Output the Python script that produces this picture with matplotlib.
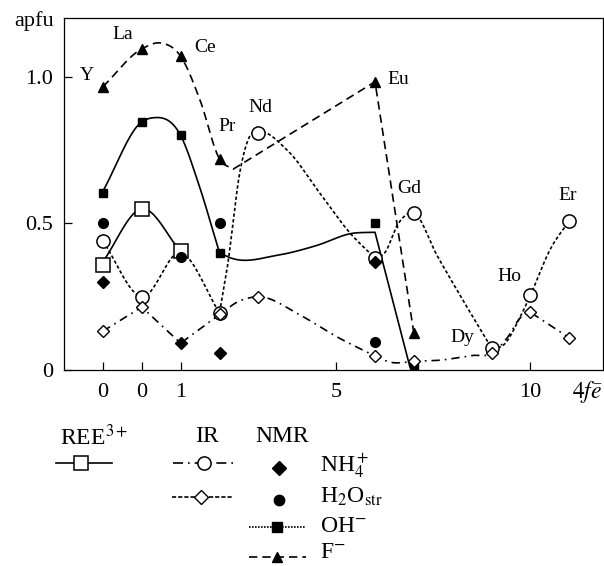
import numpy as np
import matplotlib
matplotlib.use("Agg")
import matplotlib.pyplot as plt

plt.rcParams['font.family'] = ['Liberation Serif', 'DejaVu Serif']
plt.rcParams['mathtext.fontset'] = 'stix'

# -----------------------------
# Data (x = position on 4f-electron axis; Y and La both have 0 f-electrons)
# -----------------------------
elements = ['Y', 'La', 'Ce', 'Pr', 'Nd', 'Eu', 'Gd', 'Dy', 'Ho', 'Er']
el_x = [-1, 0, 1, 2, 3, 6, 7, 9, 10, 11]

xtick_pos = [-1, 0, 1, 5, 10]
xtick_lab = ['0', '0', '1', '5', '10']
ytick_pos = [0, 0.5, 1.0]
ytick_lab = ['0', '0.5', '1.0']

# REE3+ (open squares)
ree_x = [-1, 0, 1]
ree_y = [0.36, 0.55, 0.405]

# IR, open circles
irc_x = [-1, 0, 2, 3, 6, 7, 9, 10, 11]
irc_y = [0.44, 0.25, 0.195, 0.81, 0.382, 0.535, 0.075, 0.256, 0.51]

# IR, open diamonds
ird_x = [-1, 0, 2, 3, 6, 7, 9, 10, 11]
ird_y = [0.133, 0.215, 0.19, 0.25, 0.048, 0.03, 0.057, 0.197, 0.11]

# NMR
nh4_x = [-1, 1, 2, 6]
nh4_y = [0.30, 0.092, 0.058, 0.368]
h2o_x = [-1, 1, 2, 6]
h2o_y = [0.50, 0.385, 0.50, 0.096]
oh_x = [-1, 0, 1, 2, 6, 7]
oh_y = [0.605, 0.846, 0.80, 0.40, 0.50, 0.01]
f_x = [-1, 0, 1, 2, 6, 7]
f_y = [0.966, 1.095, 1.07, 0.72, 0.983, 0.126]

# curve knots: list of pieces, (kind, x, y)
ree_curve = [('s', [-1, 0, 1], [0.37, 0.55, 0.405])]
irc_curve = [('s', [-1, 0, 1, 2], [0.44, 0.25, 0.40, 0.195]),
             ('s', [2, 2.2, 2.53, 2.75, 3, 3.74, 4.6, 5.36, 6],
                   [0.195, 0.35, 0.68, 0.79, 0.81, 0.75, 0.60, 0.467, 0.382]),
             ('s', [6, 6.25, 6.6, 7, 7.6, 8.3, 9],
                   [0.382, 0.40, 0.50, 0.535, 0.39, 0.23, 0.075]),
             ('s', [9, 9.3, 9.73, 10, 10.5, 11],
                   [0.075, 0.085, 0.18, 0.256, 0.41, 0.51])]
ird_curve = [('l', [-1, 0, 1, 2], [0.133, 0.215, 0.092, 0.19]),
             ('s', [2, 2.5, 3, 4.07, 5, 6], [0.19, 0.235, 0.25, 0.188, 0.115, 0.048]),
             ('s', [6, 6.4, 7, 7.67, 8.5, 9, 9.4, 9.75, 10],
                   [0.048, 0.027, 0.03, 0.034, 0.05, 0.057, 0.11, 0.18, 0.197]),
             ('l', [10, 11], [0.197, 0.11])]
oh_curve = [('s', [-1, 0, 0.27, 1, 1.45, 2], [0.61, 0.846, 0.86, 0.80, 0.64, 0.40]),
            ('s', [2, 2.3, 3.5, 4.5, 5.4, 6.0], [0.40, 0.382, 0.392, 0.425, 0.466, 0.47]),
            ('l', [6.0, 6.9], [0.47, 0.01])]
f_curve = [('s', [-1, 0, 0.5, 1, 1.5, 2, 2.35], [0.966, 1.095, 1.115, 1.07, 0.92, 0.72, 0.685]),
           ('l', [2.35, 6, 7], [0.685, 0.983, 0.126])]

# element label positions
lab_x = [-1.40, -0.50, 1.63, 2.2, 3.05, 6.6, 6.88, 8.24, 9.47, 10.95]
lab_y = [1.005, 1.143, 1.10, 0.83, 0.894, 0.99, 0.618, 0.113, 0.32, 0.594]


def smooth_piece(xs, ys, n=40):
    x = np.asarray(xs, float)
    y = np.asarray(ys, float)
    m = np.gradient(y, x)
    t = np.linspace(0, 1, n)
    h00 = 2 * t**3 - 3 * t**2 + 1
    h10 = t**3 - 2 * t**2 + t
    h01 = -2 * t**3 + 3 * t**2
    h11 = t**3 - t**2
    px, py = [], []
    for i in range(len(x) - 1):
        h = x[i + 1] - x[i]
        px.append(x[i] + t * h)
        py.append(h00 * y[i] + h10 * h * m[i] + h01 * y[i + 1] + h11 * h * m[i + 1])
    return np.concatenate(px), np.concatenate(py)


def build(curve):
    X, Y = [], []
    for kind, xs, ys in curve:
        if kind == 's':
            px, py = smooth_piece(xs, ys)
        else:
            px, py = np.asarray(xs, float), np.asarray(ys, float)
        X.append(px)
        Y.append(py)
    return np.concatenate(X), np.concatenate(Y)


# -----------------------------
# Plot setup
# -----------------------------
fig = plt.figure(figsize=(6.04, 5.66), dpi=100)
ax = fig.add_axes([0.106, 0.346, 0.892, 0.622])

lw = 1.2
DASH = (5, 3)
DOT = (2, 1.4)
DASHDOT = (5, 3, 1, 3)

x, y = build(f_curve)
ax.plot(x, y, color='k', lw=lw, dashes=DASH)
x, y = build(oh_curve)
ax.plot(x, y, color='k', lw=lw)
x, y = build(ree_curve)
ax.plot(x, y, color='k', lw=lw)
x, y = build(irc_curve)
ax.plot(x, y, color='k', lw=lw, dashes=DOT)
x, y = build(ird_curve)
ax.plot(x, y, color='k', lw=lw, dashes=DASHDOT)

ax.plot(f_x, f_y, ls='none', marker='^', ms=7, color='k', zorder=5)
ax.plot(oh_x, oh_y, ls='none', marker='s', ms=6, color='k', zorder=5)
ax.plot(ree_x, ree_y, ls='none', marker='s', ms=9.5, mfc='white', mec='k', mew=1.1, zorder=6)
ax.plot(irc_x, irc_y, ls='none', marker='o', ms=9.5, mfc='white', mec='k', mew=1.1, zorder=5)
ax.plot(ird_x, ird_y, ls='none', marker='D', ms=6, mfc='white', mec='k', mew=1.0, zorder=5)
ax.plot(nh4_x, nh4_y, ls='none', marker='D', ms=6.5, color='k', zorder=6)
ax.plot(h2o_x, h2o_y, ls='none', marker='o', ms=7, color='k', zorder=7)

for name, lx, ly in zip(elements, lab_x, lab_y):
    ax.text(lx, ly, name, fontsize=14, ha='center', va='center')

# -----------------------------
# Formatting
# -----------------------------
ax.set_xlim(-2, 11.86)
ax.set_ylim(0, 1.2)
ax.set_xticks(xtick_pos)
ax.set_xticklabels(xtick_lab)
ax.set_yticks(ytick_pos)
ax.set_yticklabels(ytick_lab)
ax.tick_params(direction='in', length=6, width=0.9, labelsize=16)
ax.tick_params(axis='x', pad=9)
ax.tick_params(axis='y', pad=8)
for s in ax.spines.values():
    s.set_linewidth(0.9)

ax.text(11.45, -0.075, r'$4f\bar{e}$', fontsize=17, ha='center', va='center', clip_on=False)
ax.text(-2.76, 1.19, 'apfu', fontsize=16, ha='center', va='center', clip_on=False)

# -----------------------------
# Legend (drawn in pixel-like coordinates of the figure)
# -----------------------------
lax = fig.add_axes([0, 0, 1, 1])
lax.set_xlim(0, 604)
lax.set_ylim(566, 0)
lax.axis('off')

fs = 17
lax.text(60, 437, r'REE$^{3+}$', fontsize=fs, ha='left', va='center')
lax.text(207, 437, 'IR', fontsize=fs, ha='center', va='center')
lax.text(282, 437, 'NMR', fontsize=fs, ha='center', va='center')

lax.plot([56, 112], [463, 463], color='k', lw=lw)
lax.plot([81], [463], marker='s', ms=9.5, mfc='white', mec='k', mew=1.1)

lax.plot([173, 235], [463, 463], color='k', lw=lw, dashes=(6, 3, 1, 3))
lax.plot([204], [463], marker='o', ms=9.5, mfc='white', mec='k', mew=1.1)
lax.plot([172, 232], [497, 497], color='k', lw=lw, dashes=(2.5, 1.2))
lax.plot([201], [497], marker='D', ms=7, mfc='white', mec='k', mew=1.0)

lax.plot([279], [468], marker='D', ms=7, color='k')
lax.plot([279], [500], marker='o', ms=7.5, color='k')
lax.plot([249, 306], [527, 527], color='k', lw=lw, dashes=(1, 0.8))
lax.plot([277], [527], marker='s', ms=7, color='k')
lax.plot([249, 306], [557, 557], color='k', lw=lw, dashes=(5, 3))
lax.plot([277], [557], marker='^', ms=7.5, color='k')

lax.text(320, 466, r'NH$_4^+$', fontsize=fs, ha='left', va='center')
lax.text(320, 497, r'H$_2$O$_{\rm str}$', fontsize=fs, ha='left', va='center')
lax.text(320, 526, r'OH$^{-}$', fontsize=fs, ha='left', va='center')
lax.text(320, 553, r'F$^{-}$', fontsize=fs, ha='left', va='center')

fig.savefig('out.png', dpi=100)
